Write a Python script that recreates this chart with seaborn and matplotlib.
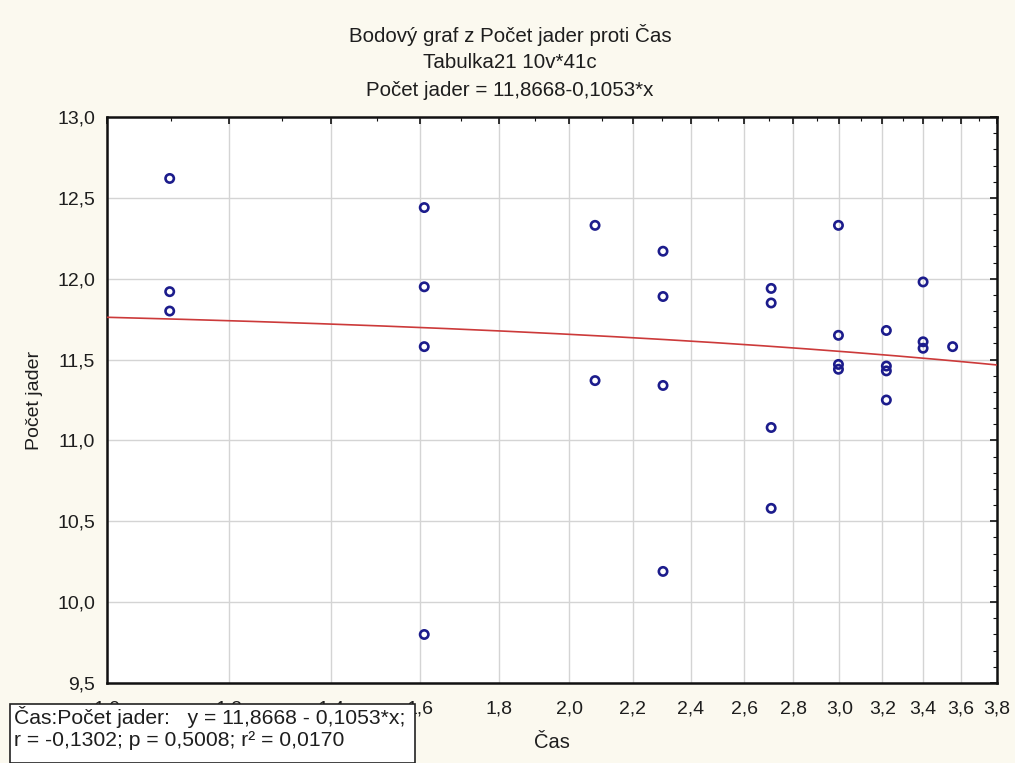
import numpy as np
import pandas as pd
import matplotlib
matplotlib.use("Agg")
import matplotlib.pyplot as plt
from matplotlib.ticker import FixedLocator, FuncFormatter, NullFormatter
from matplotlib.patches import Rectangle
import seaborn as sns

# Čas (ln of time) and Počet jader for each case
cas = [1.0986, 1.0986, 1.0986,
       1.6094, 1.6094, 1.6094, 1.6094,
       2.0794, 2.0794,
       2.3026, 2.3026, 2.3026, 2.3026,
       2.7081, 2.7081, 2.7081, 2.7081,
       2.9957, 2.9957, 2.9957, 2.9957,
       3.2189, 3.2189, 3.2189, 3.2189,
       3.4012, 3.4012, 3.4012,
       3.5553]
pocet_jader = [12.62, 11.92, 11.80,
               12.44, 11.95, 11.58, 9.80,
               12.33, 11.37,
               12.17, 11.89, 11.34, 10.19,
               11.94, 11.85, 11.08, 10.58,
               12.33, 11.65, 11.47, 11.44,
               11.68, 11.46, 11.43, 11.25,
               11.98, 11.61, 11.57,
               11.58]

# fitted line: Počet jader = 11,8668 - 0,1053*x
intercept = 11.8668
slope = -0.1053
r_value = -0.1302
p_value = 0.5008
r_squared = 0.0170

x_ticks = [1.0, 1.2, 1.4, 1.6, 1.8, 2.0, 2.2, 2.4, 2.6, 2.8, 3.0, 3.2, 3.4, 3.6, 3.8]
y_ticks = [9.5, 10.0, 10.5, 11.0, 11.5, 12.0, 12.5, 13.0]

sns.set_style("white")
plt.rcParams["font.family"] = ["Liberation Sans", "DejaVu Sans"]

TXT = "#1e1e1e"
W, H = 1015, 763
fig = plt.figure(figsize=(W / 100, H / 100), dpi=100)
fig.patch.set_facecolor("#fbf9ef")
ax = fig.add_axes([107 / W, 1 - 683 / H, (997 - 107) / W, (683 - 117) / H])
ax.set_facecolor("white")

df = pd.DataFrame({"Čas": cas, "Počet jader": pocet_jader})
line_x = np.linspace(x_ticks[0], x_ticks[-1], 300)
line_df = pd.DataFrame({"Čas": line_x, "Počet jader": intercept + slope * line_x})

sns.lineplot(data=line_df, x="Čas", y="Počet jader", ax=ax, color="#cc3a3a",
             linewidth=1.2, zorder=3)
sns.scatterplot(data=df, x="Čas", y="Počet jader", ax=ax, marker="o", s=36,
                facecolor="none", edgecolor="#1c1c8c", linewidth=1.9, zorder=4)

ax.set_xscale("log")
ax.set_xlim(x_ticks[0], x_ticks[-1])
ax.set_ylim(y_ticks[0], y_ticks[-1])

comma = FuncFormatter(lambda v, pos: f"{v:.1f}".replace(".", ","))
ax.xaxis.set_major_locator(FixedLocator(x_ticks))
ax.xaxis.set_major_formatter(comma)
ax.xaxis.set_minor_locator(FixedLocator([t + 0.1 for t in x_ticks[:-1]]))
ax.xaxis.set_minor_formatter(NullFormatter())
ax.yaxis.set_major_locator(FixedLocator(y_ticks))
ax.yaxis.set_major_formatter(comma)
ax.yaxis.set_minor_locator(FixedLocator(np.arange(9.6, 13.0, 0.1)))

ax.grid(True, which="major", color="#d4d4d4", linewidth=1.0, zorder=0)
ax.set_axisbelow(True)
ax.tick_params(which="both", direction="in", top=True, right=True,
               colors="#111111", labelcolor=TXT, labelsize=14)
ax.tick_params(which="major", length=5, width=1.2)
ax.tick_params(which="minor", length=3, width=0.8)
ax.tick_params(axis="x", pad=12.5)
ax.tick_params(axis="y", pad=8.5)
for side in ax.spines:
    ax.spines[side].set_color("#111111")
    ax.spines[side].set_linewidth(1.8)

ax.set_xlabel("")
ax.set_ylabel("Počet jader", fontsize=14, color=TXT, labelpad=10)
fig.text(552 / W, 1 - 743 / H, "Čas", ha="center", va="center",
         fontsize=14.5, color=TXT)

titles = ["Bodový graf z Počet jader proti Čas",
          "Tabulka21 10v*41c",
          "Počet jader = 11,8668-0,1053*x"]
for i, t in enumerate(titles):
    fig.text(510 / W, 1 - (35 + 27.5 * i) / H, t, ha="center", va="center",
             fontsize=14.8, color=TXT)

# regression summary box
box = Rectangle((10 / W, 0), (415 - 10) / W, (H - 704) / H, transform=fig.transFigure,
                facecolor="white", edgecolor="#222222", linewidth=1.2, zorder=5)
fig.add_artist(box)
fmt = lambda v: f"{v:.4f}".replace(".", ",")
line1 = f"Čas:Počet jader:   y = {fmt(intercept)} - {fmt(-slope)}*x;"
line2 = f"r = {fmt(r_value)}; p = {fmt(p_value)}; r² = {fmt(r_squared)}"
fig.text(14 / W, 1 - 717 / H, line1, ha="left", va="center", fontsize=15.2,
         color=TXT, zorder=6)
fig.text(14 / W, 1 - 741 / H, line2, ha="left", va="center", fontsize=15.2,
         color=TXT, zorder=6)

fig.savefig("out.png", dpi=100, facecolor=fig.get_facecolor())
